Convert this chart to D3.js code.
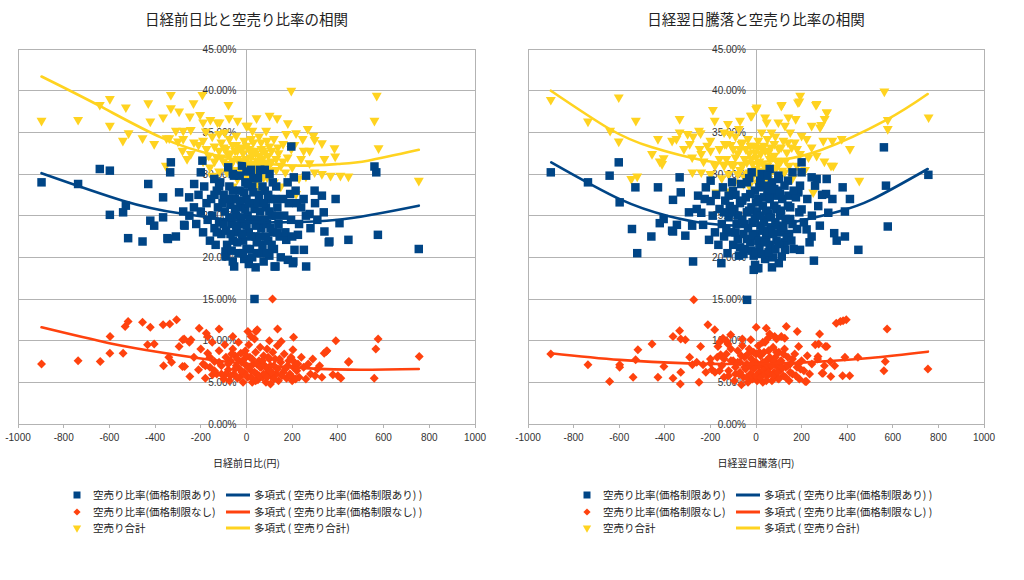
<!DOCTYPE html>
<html><head><meta charset="utf-8">
<script src="https://cdn.jsdelivr.net/npm/d3@7"></script>
<style>body{margin:0;background:#fff}</style>
</head><body><svg id="c" width="1024" height="580"></svg>
<script>
// ===== DATA =====
const titles = ["日経前日比と空売り比率の相関", "日経翌日騰落と空売り比率の相関"];
const xTitles = ["日経前日比(円)", "日経翌日騰落(円)"];
const xTicks = [-1000,-800,-600,-400,-200,0,200,400,600,800,1000];
const yTicks = [0,5,10,15,20,25,30,35,40,45];
const seriesNames = ["空売り比率(価格制限あり)", "空売り比率(価格制限なし)", "空売り合計"];
const trendNames = ["多項式 ( 空売り比率(価格制限あり) )", "多項式 ( 空売り比率(価格制限なし) )", "多項式 ( 空売り合計)"];

// left panel: [日経前日比, %]
const leftBlue = [[-897,29.0],[-737,28.8],[-642,30.6],[-598,30.4],[-598,25.1],[-540,25.4],[-528,26.2],[-518,22.3],[-455,21.9],[-430,28.8],[-421,24.4],[-404,23.8],[-365,27.2],[-365,24.8],[-346,22.3],[-331,31.4],[-334,30.2],[-309,22.5],[-295,27.8],[-277,25.5],[-273,23.9],[-251,27.2],[-229,28.8],[-200,30.2],[-193,31.6],[-141,29.4],[-130,28.0],[-80,30.8],[-54,18.9],[-91,20.1],[-344,22.2],[-271,23.8],[-92,20.7],[35,15.0],[127,18.9],[203,19.3],[251,20.9],[261,18.9],[446,22.1],[575,22.7],[754,21.0],[363,21.9],[341,23.1],[407,24.1],[174,22.1],[210,20.9],[196,33.3],[560,30.9],[568,30.2],[390,27.0],[360,21.8],[338,25.4],[330,27.4],[298,28.0],[261,29.8],[101,30.0],[207,29.6],[191,27.6],[181,19.7],[205,19.5],[123,18.9],[239,26.0],[276,25.2],[225,22.7],
[-250,25.0],[-230,26.0],[-220,24.0],[-210,27.5],[-200,25.5],[-190,23.0],[-185,28.5],[-175,26.5],[-170,24.5],[-160,22.0],[-155,27.0],[-150,25.0],[-140,23.5],[-135,21.5],[-125,26.0],[-120,24.2],[-115,29.0],[-110,22.8],[-100,27.5],[-95,25.5],[-90,23.2],[-85,21.5],[-75,28.5],[-70,26.3],[-65,24.0],[-60,22.0],[-55,29.8],[-50,27.0],[-45,25.0],[-40,23.0],[-35,20.5],[-30,28.0],[-25,26.0],[-20,24.0],[-15,22.0],[-10,19.8],[-5,29.0],[0,27.0],[5,25.0],[10,23.0],[15,21.0],[20,30.5],[25,28.5],[30,26.5],[35,24.5],[40,22.5],[45,20.5],[50,29.5],[55,27.5],[60,25.5],[65,23.5],[70,21.5],[75,19.5],[80,28.0],[85,26.0],[90,24.0],[95,22.0],[100,20.2],[105,27.0],[110,25.0],[115,23.0],[120,21.0],[130,28.5],[135,26.0],[140,24.0],[145,22.5],[150,20.0],[160,27.0],[165,25.0],[170,23.0],[180,29.0],[185,26.5],[195,24.5],[200,22.5],[215,28.0],[220,26.5],[230,24.0],[250,27.0],[260,25.0],[280,23.5],[300,26.5],[310,24.5],[-20,31.0],[60,30.5],[-60,19.5],[10,19.2],[40,18.8],[-140,27.5],
[-80,27.0],[-75,24.8],[-70,22.8],[-65,20.8],[-60,28.0],[-50,25.8],[-45,23.8],[-40,21.8],[-30,26.8],[-25,24.8],[-20,22.8],[-15,20.5],[-10,27.8],[-5,25.8],[0,23.8],[0,21.0],[5,28.8],[10,26.5],[15,24.5],[20,22.5],[25,20.0],[30,27.8],[35,25.8],[40,23.8],[45,21.8],[50,26.5],[55,24.5],[60,22.5],[65,20.5],[70,28.5],[75,26.5],[80,24.5],[85,22.5],[90,20.5],[95,27.5],[100,25.5],[105,23.5],[110,21.5],[115,29.0],[125,27.0],[130,25.0],[135,23.0],[-100,24.0],[-105,26.5],[-120,28.5],[-130,23.0],[-60,30.0],[-30,29.8],[0,30.3],[30,29.5],[80,30.5]];

const leftOrange = [[-897,7.2],[-737,7.6],[-640,7.5],[-597,10.5],[-598,8.5],[-540,8.5],[-531,11.7],[-518,12.3],[-455,12.2],[-421,11.6],[-433,9.5],[-404,9.6],[-365,11.9],[-336,12.0],[-306,12.5],[-363,7.0],[-328,7.4],[-340,8.0],[-295,9.3],[-280,6.9],[-273,10.2],[-248,5.7],[-207,11.5],[-149,5.9],[-120,11.4],[41,11.1],[114,15.0],[136,11.4],[206,10.4],[340,8.5],[352,8.8],[391,10.0],[446,7.4],[576,10.2],[566,9.0],[559,5.5],[756,8.1],[413,5.5],[400,5.8],
[-279,10.1],[-243,10.1],[-176,10.9],[6,11.1],[47,11.3],[152,9.9],[203,8.9],[349,8.7],[448,7.5],[378,5.9],[-271,6.9],
[-230,8.0],[-210,6.5],[-200,9.0],[-190,7.2],[-180,5.5],[-170,8.5],[-160,6.8],[-150,9.8],[-140,7.5],[-130,6.0],[-120,8.8],[-110,7.0],[-100,5.4],[-95,9.5],[-90,8.0],[-80,6.5],[-75,5.2],[-70,7.6],[-60,9.0],[-55,6.0],[-50,8.2],[-45,7.0],[-40,5.5],[-35,9.8],[-30,6.6],[-25,8.5],[-20,7.4],[-15,5.0],[-10,6.2],[-5,8.8],[0,7.0],[5,5.6],[10,9.5],[15,8.0],[20,6.4],[25,5.0],[30,7.2],[35,10.2],[40,8.6],[45,6.0],[50,5.3],[55,7.6],[60,9.2],[65,6.8],[70,5.6],[75,8.2],[80,7.0],[85,5.0],[90,9.0],[95,6.3],[100,7.8],[105,4.8],[110,5.8],[115,8.6],[120,7.0],[130,6.0],[135,9.4],[140,5.2],[150,7.4],[160,6.2],[165,8.4],[175,5.5],[180,7.0],[190,6.0],[195,8.0],[200,5.2],[210,7.4],[220,6.4],[230,5.6],[240,8.0],[250,6.8],[260,5.4],[270,7.2],[280,6.0],[290,7.8],[300,5.8],[310,6.6],[320,7.0],[330,5.6],[-60,10.5],[20,10.5],[100,10.0],[-250,9.8],[-170,10.5],
[-90,6.0],[-80,7.2],[-70,5.8],[-65,8.4],[-50,6.6],[-40,7.8],[-30,5.6],[-20,6.2],[-10,7.8],[0,5.8],[0,8.2],[10,6.8],[20,5.6],[25,7.8],[35,6.2],[40,5.2],[45,7.2],[55,5.8],[60,6.8],[70,7.6],[75,6.0],[85,6.8],[90,5.6],[95,8.0],[105,7.0],[110,6.2],[120,5.4],[125,7.8],[135,6.6],[145,7.8],[155,5.8],[170,6.6],[185,7.6],[195,5.8],[205,6.8],[215,5.4],[225,7.2],[-110,6.0],[-120,7.4],[-140,6.4],[-160,8.0],[-180,7.0]];

const leftTotal = [[-897,36.4],[-737,36.5],[-642,38.3],[-598,39.0],[-598,35.8],[-528,38.0],[-516,34.9],[-541,34.0],[-430,38.5],[-421,36.3],[-455,34.3],[-404,33.6],[-365,36.8],[-331,39.5],[-331,37.9],[-295,37.5],[-338,34.3],[-350,34.3],[-309,35.2],[-277,35.2],[-277,34.2],[-244,35.3],[-232,38.5],[-193,39.5],[-248,36.9],[-203,37.1],[-280,32.8],[-244,32.4],[-353,31.0],[-190,36.2],[-178,35.1],[-127,36.2],[-158,36.5],[-118,36.2],[-79,38.3],[-76,36.7],[-39,36.4],[-1,35.8],[44,36.7],[101,37.0],[134,36.7],[181,36.1],[196,40.0],[217,34.9],[268,35.4],[298,34.1],[330,33.7],[276,32.8],[341,31.8],[385,33.1],[388,32.1],[411,29.8],[446,29.7],[368,29.8],[330,30.0],[298,30.2],[239,31.8],[196,33.0],[137,33.2],[86,35.2],[6,35.8],[26,35.2],[20,34.2],[64,33.8],[174,34.8],[246,34.2],[276,31.3],[217,27.6],[570,39.4],[560,36.4],[578,33.1],[754,29.2],[293,34.6],
[-210,33.5],[-190,34.0],[-175,33.0],[-165,32.2],[-150,34.5],[-140,33.3],[-130,32.0],[-120,34.8],[-110,33.8],[-100,31.5],[-95,35.0],[-90,33.0],[-80,32.3],[-75,34.2],[-70,31.0],[-60,33.5],[-55,30.5],[-50,32.8],[-45,34.6],[-40,31.8],[-35,30.2],[-30,33.2],[-25,31.2],[-20,29.8],[-15,32.5],[-10,34.0],[-5,30.8],[0,31.8],[5,29.5],[10,33.0],[15,30.5],[20,32.0],[25,31.0],[30,33.8],[35,30.0],[40,32.5],[45,29.0],[50,31.5],[55,34.5],[60,30.6],[65,33.0],[70,31.8],[75,29.6],[80,32.6],[90,34.0],[95,30.8],[100,33.3],[110,31.5],[120,34.2],[130,30.5],[140,32.5],[150,31.0],[160,33.6],[170,30.2],[180,32.0],[200,30.8],[210,33.5],[230,29.5],[250,32.8],[-60,28.5],[10,28.8],[60,28.2],[120,29.0],[-120,30.3],[-160,30.8],[-230,33.8],[-260,31.8],[-300,33.9],[-190,31.5],[-150,29.8],[150,28.5],[260,29.7],
[-70,32.5],[-60,31.5],[-50,30.5],[-45,33.5],[-40,32.8],[-30,31.6],[-25,30.0],[-20,33.0],[-10,31.6],[-5,29.2],[0,33.4],[5,31.2],[10,30.2],[15,32.8],[20,29.6],[25,32.4],[30,31.2],[35,32.8],[40,30.8],[45,31.6],[50,30.0],[55,32.2],[60,29.4],[65,31.0],[70,32.8],[75,30.8],[85,31.4],[90,29.6],[95,32.2],[105,30.4],[110,32.8],[-90,31.2],[-100,33.2],[-110,32.0],[-85,30.2],[-140,31.5],[-120,32.8],[130,31.8],[160,31.5],[0,29.0],[30,29.2],[-40,29.4]];

// right panel: [日経翌日騰落, %]
const rightBlue = [[-900,30.2],[-737,29.0],[-642,29.8],[-602,31.4],[-598,26.6],[-529,28.4],[-544,23.4],[-521,20.5],[-459,22.5],[-430,28.4],[-422,24.1],[-405,24.6],[-364,26.9],[-368,23.2],[-347,23.9],[-335,29.6],[-330,27.8],[-310,22.6],[-294,25.4],[-280,23.8],[-276,19.5],[-254,27.4],[-199,29.2],[-206,22.1],[-145,28.4],[-152,19.3],[561,33.2],[570,28.6],[756,29.9],[578,23.7],[449,20.9],[380,28.4],[412,27.0],[390,25.5],[343,22.9],[390,22.5],[354,22.0],[254,19.6],[310,29.4],[266,29.4],[200,31.4],[200,30.2],[98,29.8],[-4,19.1],[-39,14.9],[4,18.7],[100,19.3],[-364,23.1],
[-240,25.35],[-225,27.0],[-199,26.75],[-232,23.9],[-115,26.15],[-101,27.95],[307,27.6],[335,27.0],[317,25.35],[244,29.6],[259,28.6],[193,28.6],[186,27.8],[142,27.4],[18,29.2],[-19,30.2],[47,28.6],[83,27.4],[200,25.75],[273,26.15],[222,23.35],[244,22.5],[193,20.9],[127,20.9],[113,20.1],[10,18.7],
[-190,25.0],[-180,23.0],[-175,27.5],[-165,21.5],[-160,25.8],[-150,24.0],[-140,22.5],[-135,26.8],[-125,20.5],[-120,24.8],[-110,23.0],[-105,29.0],[-100,21.5],[-95,25.8],[-90,27.5],[-85,24.0],[-80,22.2],[-75,20.2],[-70,26.5],[-65,28.8],[-60,24.5],[-55,22.8],[-50,21.0],[-45,27.2],[-40,25.4],[-35,23.5],[-30,29.5],[-25,21.8],[-20,26.0],[-15,24.2],[-10,20.2],[-5,28.0],[0,22.8],[5,25.5],[10,27.0],[15,21.2],[20,23.8],[25,30.0],[30,26.2],[35,24.5],[40,19.8],[45,22.4],[50,27.8],[55,25.2],[60,21.5],[65,23.6],[70,29.0],[75,20.0],[80,26.2],[85,24.2],[90,22.0],[95,28.0],[105,25.0],[110,23.0],[115,27.0],[125,21.8],[130,24.6],[140,29.2],[145,22.8],[150,26.0],[160,24.0],[165,21.0],[175,27.2],[180,23.4],[190,25.4],[210,24.2],[225,27.0],[235,21.8],[245,25.0],[280,23.8],[290,27.5],[-220,28.4],[-260,25.8],[60,30.6],[160,30.2],[-10,18.5],[70,18.8],
[-90,23.0],[-80,25.0],[-70,21.2],[-60,26.8],[-55,20.4],[-50,24.0],[-40,22.2],[-30,25.6],[-25,27.6],[-20,20.8],[-15,22.6],[-5,24.6],[0,26.6],[0,20.6],[10,22.0],[15,28.4],[20,25.0],[25,20.4],[30,23.2],[35,27.2],[40,21.8],[45,25.6],[50,23.0],[55,20.6],[60,27.0],[65,24.8],[75,22.8],[80,28.2],[85,21.0],[90,25.8],[95,23.8],[100,21.6],[105,27.6],[110,25.6],[120,23.6],[125,28.6],[135,22.4],[140,26.2],[150,24.6],[155,22.0],[165,28.0],[-110,25.4],[-120,27.4],[-130,23.4],[-140,25.4],[20,29.0],[-40,29.0],[100,29.4],[50,29.8]];

const rightOrange = [[-900,8.4],[-737,7.1],[-642,5.1],[-598,7.1],[-598,6.8],[-539,5.6],[-528,7.7],[-518,8.9],[-456,9.6],[-430,5.6],[-404,6.9],[-364,10.5],[-364,5.5],[-335,11.2],[-330,10.2],[-330,6.2],[-332,4.8],[-310,10.1],[-291,8.0],[-250,5.0],[-243,9.3],[-273,14.9],[-211,11.9],[-181,11.3],[-145,10.3],[-111,10.7],[-64,4.7],[-23,10.1],[1,11.6],[45,11.5],[133,11.7],[181,11.1],[126,10.3],[221,5.1],[279,10.8],[311,9.3],[328,5.7],[345,7.0],[352,12.1],[370,12.3],[382,12.4],[396,12.5],[411,5.8],[380,5.8],[447,8.0],[390,8.0],[561,6.4],[567,7.5],[575,11.4],[754,6.6],
[-279,7.1],[-232,7.1],[-199,7.3],[-193,6.5],[-167,9.3],[-155,8.3],[-123,9.6],[53,10.3],[82,10.5],[275,9.6],[294,6.1],[111,10.5],[187,9.3],[260,9.5],[304,9.3],[272,8.1],[326,7.5],[290,6.1],[216,5.1],
[-150,7.0],[-140,5.6],[-130,8.4],[-120,6.4],[-110,9.0],[-100,7.6],[-95,5.2],[-90,6.8],[-80,8.8],[-75,6.0],[-70,7.4],[-60,9.4],[-55,5.6],[-50,8.0],[-45,6.6],[-40,7.2],[-35,5.0],[-30,9.0],[-25,6.0],[-20,7.8],[-15,5.4],[-10,8.6],[-5,6.8],[0,7.4],[5,5.2],[10,9.4],[15,6.2],[20,8.2],[25,7.0],[30,5.0],[35,6.5],[40,9.8],[45,7.6],[50,5.8],[55,8.8],[60,6.8],[65,7.8],[70,5.2],[75,9.2],[80,6.2],[85,8.0],[90,7.0],[95,5.5],[100,8.6],[105,6.4],[110,7.6],[120,5.8],[125,9.0],[130,6.8],[140,8.0],[145,5.2],[150,7.2],[160,6.0],[170,8.4],[180,6.8],[190,5.4],[200,7.6],[210,6.4],[225,8.2],[235,6.0],[245,7.2],[-180,6.2],[-200,7.8],[-170,8.0],[-220,6.2],[-260,7.4],[-160,9.8],[-130,10.0],[-60,10.2],[60,10.8],[90,10.2],[30,9.8],[300,7.0],[270,7.8],
[-90,6.0],[-80,7.4],[-70,6.2],[-65,8.2],[-50,6.8],[-40,5.6],[-35,8.4],[-25,7.0],[-20,5.8],[-10,6.6],[0,8.4],[0,5.8],[10,7.0],[15,8.6],[20,5.6],[30,7.4],[35,8.6],[40,6.0],[45,5.2],[50,7.0],[55,6.2],[60,8.0],[70,7.0],[75,5.8],[80,7.6],[90,8.6],[95,6.2],[100,5.4],[105,7.4],[115,6.8],[120,8.4],[130,5.6],[140,7.0],[150,6.2],[160,7.8],[175,5.8],[185,7.2],[195,6.6],[-110,7.6],[-120,5.8],[-140,7.8],[-160,6.4]];

const rightTotal = [[-900,38.9],[-737,36.3],[-640,35.2],[-602,39.2],[-602,33.9],[-527,36.4],[-521,29.7],[-547,29.4],[-456,32.4],[-430,34.2],[-405,31.9],[-422,31.5],[-412,31.2],[-335,36.6],[-335,35.0],[-189,37.7],[1,37.8],[-279,30.2],[-240,30.2],[-174,27.8],[111,38.2],[184,38.6],[194,39.4],[263,38.3],[311,37.4],[286,35.9],[453,29.2],[563,39.9],[578,35.4],[578,36.5],[757,36.8],[412,33.0],[376,34.2],[339,31.0],[266,38.4],[190,38.7],[113,38.3],[3,38.0],[251,27.8],
[-316,33.0],[-291,33.6],[-276,34.5],[-243,34.9],[-247,33.0],[-240,32.4],[-214,33.4],[-199,32.8],[-181,36.4],[-137,33.6],[-123,36.0],[-115,34.8],[-75,35.4],[-64,33.6],[-23,37.0],[-368,34.0],[-349,34.2],
[-19,37.0],[47,36.2],[98,36.2],[25,35.0],[68,35.0],[127,35.8],[222,34.2],[244,35.8],[281,35.6],[295,34.0],[244,33.2],[266,32.2],[193,32.4],[157,33.2],[335,34.0],[310,37.4],[301,36.6],[329,31.0],[142,36.8],[174,36.6],
[-230,31.5],[-200,34.0],[-180,31.0],[-160,33.0],[-150,29.5],[-140,35.0],[-130,31.8],[-120,30.0],[-110,33.5],[-100,31.0],[-95,29.0],[-90,34.5],[-80,32.5],[-70,30.5],[-60,33.8],[-55,28.8],[-50,31.8],[-40,30.0],[-35,34.2],[-30,32.5],[-20,29.5],[-15,31.2],[-10,33.4],[-5,30.4],[0,32.0],[5,29.0],[10,34.0],[15,31.5],[20,30.0],[25,33.0],[30,28.6],[35,31.0],[40,32.8],[45,30.2],[50,34.2],[55,29.4],[60,31.8],[65,33.2],[70,30.6],[75,29.0],[80,32.2],[85,34.5],[90,30.8],[100,33.0],[105,29.6],[110,31.6],[120,34.0],[125,30.2],[135,32.6],[145,31.0],[150,35.0],[160,29.5],[170,33.8],[180,31.0],[200,34.6],[215,30.5],[230,32.0],[-250,35.2],[-70,36.4],[40,36.8],[-280,32.0],[-120,27.9],[80,28.0],[300,31.5],[-300,34.8],[-200,30.0],
[-90,32.0],[-80,30.0],[-70,33.0],[-60,31.0],[-50,29.6],[-45,33.0],[-40,31.4],[-30,30.2],[-25,33.4],[-20,31.8],[-10,30.0],[-5,32.6],[0,30.6],[5,33.2],[10,31.2],[15,29.6],[20,32.4],[30,30.4],[35,33.4],[40,29.6],[50,31.0],[55,32.6],[60,30.0],[70,32.0],[75,30.6],[80,33.6],[90,31.6],[95,29.8],[100,31.2],[110,33.2],[115,30.4],[130,31.6],[-100,33.0],[-110,31.2],[-130,33.6],[-140,31.0],[-160,31.8],[140,33.8],[180,33.0],[10,28.8],[-30,28.6]];

// polynomial trendlines: [x, %]
const leftTrendBlue = [[-897,30.1],[-541,26.8],[-286,25.25],[0,24.3],[150,24.2],[400,24.5],[754,26.2]];
const leftTrendOrange = [[-897,11.6],[-600,9.7],[-366,8.55],[-127,7.6],[165,6.86],[450,6.52],[754,6.6]];
const leftTrendTotal = [[-897,41.7],[-645,38.2],[-375,34.4],[-127,32.2],[166,31.05],[400,31.2],[531,31.6],[754,32.9]];
const rightTrendBlue = [[-898,31.4],[-595,26.95],[-386,24.97],[-225,24.1],[-43,23.77],[150,24.16],[350,25.4],[509,26.95],[753,30.6]];
const rightTrendOrange = [[-900,8.5],[-598,7.7],[-298,7.28],[-100,7.2],[100,7.28],[257,7.46],[500,7.92],[754,8.68]];
const rightTrendTotal = [[-900,40.0],[-642,35.4],[-456,33.2],[-225,31.6],[-69,31.3],[100,31.66],[288,32.9],[566,36.4],[753,39.6]];

// ===== DRAW =====
const COLORS = ["#004586", "#ff420e", "#ffd320"];
const svg = d3.select("#c");
svg.append("rect").attr("width",1024).attr("height",580).attr("fill","#fff");
const NUMFONT = "'Liberation Sans', Arial, 'Noto Sans CJK JP', sans-serif";
const CJKFONT = "'Noto Sans CJK JP', sans-serif";

const panels = [
  {left:18, right:475, title:titles[0], xt:xTitles[0], blue:leftBlue, orange:leftOrange, total:leftTotal,
   tb:leftTrendBlue, to:leftTrendOrange, tt:leftTrendTotal, legX:77},
  {left:528, right:984, title:titles[1], xt:xTitles[1], blue:rightBlue, orange:rightOrange, total:rightTotal,
   tb:rightTrendBlue, to:rightTrendOrange, tt:rightTrendTotal, legX:587}
];
const TOP = 49, BOTTOM = 424;

const sqSym = d3.symbol().type(d3.symbolSquare);
const triSym = d3.symbol().type(d3.symbolTriangle);

panels.forEach(p => {
  const g = svg.append("g");
  const x = d3.scaleLinear().domain([-1000,1000]).range([p.left, p.right]);
  const y = d3.scaleLinear().domain([0,45]).range([BOTTOM, TOP]);
  const cx = (p.left + p.right)/2;

  g.append("text").attr("x", cx).attr("y", 25).attr("text-anchor","middle")
    .attr("font-family", CJKFONT).attr("font-size", "14.5px").attr("fill","#222").text(p.title);

  g.selectAll(".hg").data(yTicks).join("line")
    .attr("x1", p.left).attr("x2", p.right).attr("y1", d=>y(d)).attr("y2", d=>y(d))
    .attr("stroke","#b3b3b3").attr("stroke-width",1).attr("shape-rendering","crispEdges");
  g.selectAll(".vg").data([-1000,0,1000]).join("line")
    .attr("x1", d=>x(d)).attr("x2", d=>x(d)).attr("y1", TOP).attr("y2", BOTTOM)
    .attr("stroke","#b3b3b3").attr("stroke-width",1).attr("shape-rendering","crispEdges");
  g.selectAll(".xt").data(xTicks).join("line")
    .attr("x1", d=>x(d)).attr("x2", d=>x(d)).attr("y1", BOTTOM).attr("y2", BOTTOM+4)
    .attr("stroke","#b3b3b3").attr("shape-rendering","crispEdges");
  g.selectAll(".xl").data(xTicks).join("text")
    .attr("x", d=>x(d)).attr("y", BOTTOM+17).attr("text-anchor","middle")
    .attr("font-family", NUMFONT).attr("font-size","10px").attr("fill","#333").text(d=>d);
  g.selectAll(".yl").data(yTicks).join("text")
    .attr("x", x(0)-10).attr("y", d=>y(d)+3.5).attr("text-anchor","end")
    .attr("font-family", NUMFONT).attr("font-size","10px").attr("fill","#333")
    .text(d=>d.toFixed(2)+"%");
  g.append("text").attr("x", x(0)).attr("y", 467).attr("text-anchor","middle")
    .attr("font-family", CJKFONT).attr("font-size","10px").attr("fill","#222").text(p.xt);

  g.selectAll(".tot").data(p.total).join("path")
    .attr("d", triSym.size(43)())
    .attr("transform", d=>`translate(${x(d[0])},${y(d[1])}) rotate(180)`)
    .attr("fill", COLORS[2]);
  g.selectAll(".ora").data(p.orange).join("path")
    .attr("d", sqSym.size(40)())
    .attr("transform", d=>`translate(${x(d[0])},${y(d[1])}) rotate(45)`)
    .attr("fill", COLORS[1]);
  g.selectAll(".blu").data(p.blue).join("path")
    .attr("d", sqSym.size(72)())
    .attr("transform", d=>`translate(${x(d[0])},${y(d[1])})`)
    .attr("fill", COLORS[0]);

  const line = d3.line().x(d=>x(d[0])).y(d=>y(d[1])).curve(d3.curveNatural);
  [[p.tb,0],[p.to,1],[p.tt,2]].forEach(([data,i]) => {
    g.append("path").attr("d", line(data)).attr("fill","none")
      .attr("stroke", COLORS[i]).attr("stroke-width", 2.6).attr("stroke-linecap","round");
  });

  const rows = [495, 512, 528];
  const lg = g.append("g");
  rows.forEach((ry, i) => {
    const mx = p.legX;
    let mk;
    if (i === 0) mk = lg.append("path").attr("d", sqSym.size(49)()).attr("transform",`translate(${mx},${ry})`);
    else if (i === 1) mk = lg.append("path").attr("d", sqSym.size(26)()).attr("transform",`translate(${mx},${ry}) rotate(45)`);
    else mk = lg.append("path").attr("d", triSym.size(30)()).attr("transform",`translate(${mx},${ry}) rotate(180)`);
    mk.attr("fill", COLORS[i]);
    lg.append("text").attr("x", mx+16).attr("y", ry+4).attr("font-family", CJKFONT)
      .attr("font-size","10.5px").attr("fill","#222").text(seriesNames[i]);
    lg.append("line").attr("x1", mx+149).attr("x2", mx+173).attr("y1", ry).attr("y2", ry)
      .attr("stroke", COLORS[i]).attr("stroke-width", 3);
    lg.append("text").attr("x", mx+177).attr("y", ry+4).attr("font-family", CJKFONT)
      .attr("font-size","10.5px").attr("fill","#222").text(trendNames[i]);
  });
});
</script></body></html>
